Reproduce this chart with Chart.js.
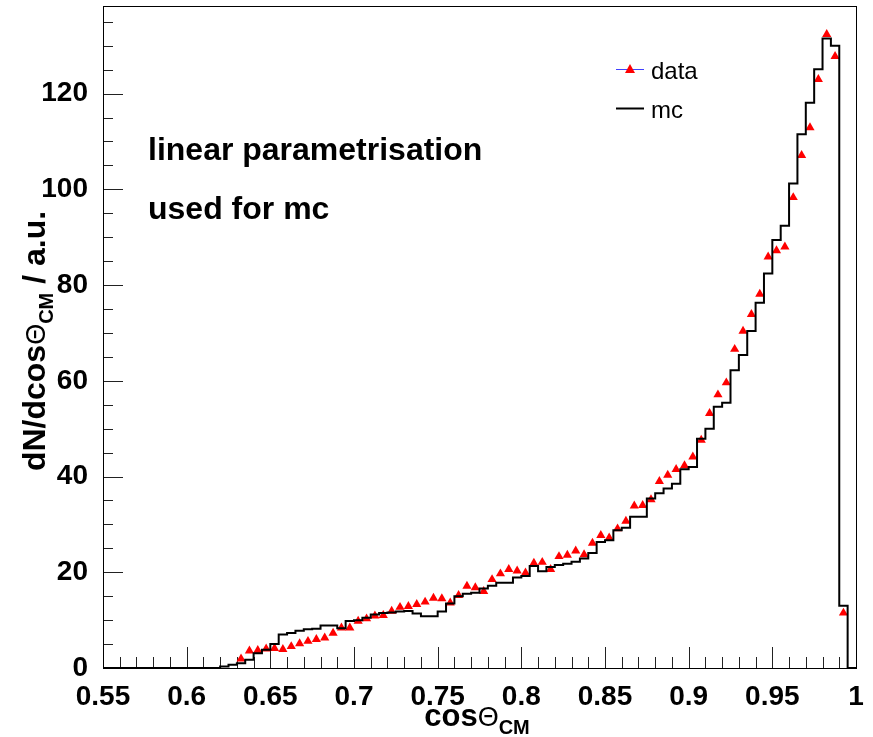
<!DOCTYPE html>
<html>
<head>
<meta charset="utf-8">
<script src="https://cdn.jsdelivr.net/npm/chart.js@4.4.0/dist/chart.umd.min.js"></script>
<style>
html, body { margin: 0; padding: 0; background: #fff; }
#wrap { width: 873px; height: 737px; }
</style>
</head>
<body>
<div id="wrap"><canvas id="chart"></canvas></div>
<script>
// both histograms share the same binning: 90 bins of 0.005 from 0.55 to 1.0
var binLow = 0.55, binWidth = 0.005;

// simulated distribution, one entry per bin
var mc = [
  0, 0, 0, 0, 0, 0, 0, 0, 0, 0,
  0, 0, 0, 0, 0.3, 0.7, 1.0, 1.7, 3.1, 3.8,
  5.0, 7.0, 7.3, 7.8, 8.1, 8.2, 8.9, 8.9, 8.3, 9.8,
  10.0, 10.5, 11.2, 11.5, 11.6, 11.8, 11.9, 11.4, 10.8, 10.8,
  11.8, 13.5, 15.0, 15.5, 15.7, 16.6, 17.2, 17.8, 17.8, 18.9,
  19.2, 21.3, 20.2, 21.1, 21.5, 21.8, 22.2, 22.9, 24.0, 26.3,
  26.7, 28.8, 29.3, 31.6, 31.6, 35.4, 36.5, 37.5, 38.5, 41.5,
  42.0, 47.9, 50.0, 54.6, 55.4, 62.2, 65.4, 70.4, 76.3, 82.4,
  89.4, 92.4, 101.2, 111.5, 118.1, 125.1, 131.5, 130.0, 13.0, 0
];

// measured distribution, null where the bin is empty
var data = [
  null, null, null, null, null, null, null, null, null, null,
  null, null, null, null, null, null, 1.9, 3.6, 3.7, 4.0,
  4.1, 3.9, 4.5, 5.1, 5.6, 6.0, 6.3, 7.3, 8.4, 8.4,
  9.8, 10.3, 10.9, 11.0, 11.9, 12.7, 12.9, 13.3, 13.8, 14.6,
  14.5, 13.6, 15.2, 17.1, 16.8, 16.0, 18.5, 19.7, 20.6, 20.3,
  19.9, 21.9, 22.1, 20.6, 23.3, 23.6, 24.5, 23.7, 26.1, 27.7,
  27.2, 29.1, 30.7, 33.9, 34.0, 35.2, 39.0, 40.3, 41.5, 42.3,
  44.1, 47.6, 53.2, 57.1, 59.6, 66.6, 70.4, 73.9, 78.1, 85.9,
  87.2, 88.0, 98.3, 107.1, 112.9, 123.0, 132.4, 127.8, 11.5, null
];

var xTicks = [0.55, 0.6, 0.65, 0.7, 0.75, 0.8, 0.85, 0.9, 0.95, 1.0];
var xTickLabels = ['0.55', '0.6', '0.65', '0.7', '0.75', '0.8', '0.85', '0.9', '0.95', '1'];
var yTicks = [0, 20, 40, 60, 80, 100, 120];
var yTickLabels = ['0', '20', '40', '60', '80', '100', '120'];

var FONT = '"Liberation Sans", Arial, Helvetica, sans-serif';

// step line through the left edges, closed at the upper edge
var mcPoints = mc.map(function (v, i) { return { x: binLow + i * binWidth, y: v }; });
mcPoints.push({ x: binLow + mc.length * binWidth, y: mc[mc.length - 1] });

var dataPoints = [];
data.forEach(function (v, i) {
  if (v !== null) dataPoints.push({ x: binLow + (i + 0.5) * binWidth, y: v });
});

// draws a run of text pieces (for sub-scripts) starting at x, on baseline y
function richText(ctx, parts, x, y) {
  parts.forEach(function (p) {
    ctx.font = p.font;
    ctx.fillText(p.t, x, y + (p.dy || 0));
    x += ctx.measureText(p.t).width;
  });
}
function richWidth(ctx, parts) {
  var w = 0;
  parts.forEach(function (p) { ctx.font = p.font; w += ctx.measureText(p.t).width; });
  return w;
}

var yTitle = [
  { t: 'dN/dcos', font: 'bold 32px ' + FONT },
  { t: '\u0398', font: '27px ' + FONT },
  { t: 'CM', font: 'bold 20px ' + FONT, dy: 8 },
  { t: ' / a.u.', font: 'bold 32px ' + FONT }
];
var xTitle = [
  { t: 'cos', font: 'bold 31px ' + FONT },
  { t: '\u0398', font: '27px ' + FONT },
  { t: 'CM', font: 'bold 20px ' + FONT, dy: 8 }
];

var frameAndTicks = {
  id: 'frameAndTicks',
  beforeDatasetsDraw: function (chart) {
    var ctx = chart.ctx, a = chart.chartArea;
    var xs = chart.scales.x, ys = chart.scales.y;
    ctx.save();
    ctx.strokeStyle = '#222';
    ctx.lineWidth = 1;
    ctx.beginPath();
    // x ticks every 0.01, long ones every 0.05
    for (var i = 0; i <= 45; i++) {
      var px = Math.round(xs.getPixelForValue(0.55 + i * 0.01)) + 0.5;
      var len = (i % 5 === 0) ? 21 : 11;
      ctx.moveTo(px, a.bottom);
      ctx.lineTo(px, a.bottom - len);
    }
    // y ticks every 5, long ones every 20
    for (var j = 0; j <= 27; j++) {
      var py = Math.round(ys.getPixelForValue(j * 5)) + 0.5;
      var len2 = (j % 4 === 0) ? 20 : 10;
      ctx.moveTo(a.left, py);
      ctx.lineTo(a.left + len2, py);
    }
    ctx.stroke();
    ctx.restore();
  },
  afterDatasetsDraw: function (chart) {
    var ctx = chart.ctx, a = chart.chartArea;
    ctx.save();
    ctx.strokeStyle = '#000';
    ctx.lineWidth = 1;
    ctx.strokeRect(Math.round(a.left) + 0.5, Math.round(a.top) + 0.5,
      Math.round(a.right - a.left), Math.round(a.bottom - a.top));

    ctx.fillStyle = '#000';
    ctx.textBaseline = 'alphabetic';
    ctx.textAlign = 'left';

    // axis titles
    var wx = richWidth(ctx, xTitle);
    richText(ctx, xTitle, 477 - wx / 2, 726);

    ctx.save();
    ctx.translate(45, 341);
    ctx.rotate(-Math.PI / 2);
    var wy = richWidth(ctx, yTitle);
    richText(ctx, yTitle, -wy / 2, 0);
    ctx.restore();

    // annotation
    ctx.font = 'bold 32px ' + FONT;
    ctx.fillText('linear parametrisation', 148, 160);
    ctx.fillText('used for mc', 148, 219);

    // legend
    ctx.strokeStyle = '#4040ff';
    ctx.lineWidth = 1;
    ctx.beginPath();
    ctx.moveTo(616, 69.5);
    ctx.lineTo(644, 69.5);
    ctx.stroke();
    ctx.fillStyle = '#ff0000';
    ctx.beginPath();
    ctx.moveTo(630, 64);
    ctx.lineTo(635, 73);
    ctx.lineTo(625, 73);
    ctx.closePath();
    ctx.fill();

    ctx.strokeStyle = '#000';
    ctx.lineWidth = 2;
    ctx.beginPath();
    ctx.moveTo(616, 108.5);
    ctx.lineTo(644, 108.5);
    ctx.stroke();

    ctx.fillStyle = '#000';
    ctx.font = '24px ' + FONT;
    ctx.fillText('data', 651, 79);
    ctx.fillText('mc', 651, 118);
    ctx.restore();
  }
};

var ctx = document.getElementById('chart');
var chart = new Chart(ctx, {
  type: 'scatter',
  data: {
    datasets: [{
      label: 'mc',
      data: mcPoints,
      showLine: true,
      stepped: true,
      borderColor: '#000',
      borderWidth: 2,
      pointRadius: 0,
      fill: false
    }, {
      label: 'data',
      data: dataPoints,
      showLine: false,
      pointStyle: 'triangle',
      pointRadius: 5.3,
      pointBackgroundColor: '#ff0000',
      pointBorderColor: '#ff0000',
      pointBorderWidth: 0
    }]
  },
  options: {
    responsive: true,
    maintainAspectRatio: false,
    animation: false,
    layout: { padding: { top: 6, right: 17, left: 0, bottom: 0 } },
    plugins: {
      legend: { display: false },
      tooltip: { enabled: false }
    },
    scales: {
      x: {
        type: 'linear',
        min: 0.55,
        max: 1.0,
        afterBuildTicks: function (scale) {
          scale.ticks = xTicks.map(function (v) { return { value: v }; });
        },
        afterFit: function (scale) {
          scale.height = 69;
          scale.paddingLeft = 0;
          scale.paddingRight = 0;
        },
        grid: { display: false },
        border: { display: false },
        ticks: {
          autoSkip: false,
          maxRotation: 0,
          padding: 4,
          color: '#000',
          font: { family: FONT, size: 28, weight: 'bold' },
          callback: function (v, i) { return xTickLabels[i]; }
        }
      },
      y: {
        type: 'linear',
        min: 0,
        max: 138.3,
        afterBuildTicks: function (scale) {
          scale.ticks = yTicks.map(function (v) { return { value: v }; });
        },
        afterFit: function (scale) {
          scale.width = 103;
          scale.paddingTop = 0;
          scale.paddingBottom = 0;
        },
        grid: { display: false },
        border: { display: false },
        ticks: {
          autoSkip: false,
          padding: 7,
          color: '#000',
          font: { family: FONT, size: 28, weight: 'bold' },
          callback: function (v, i) { return yTickLabels[i]; }
        }
      }
    }
  },
  plugins: [frameAndTicks]
});
</script>
</body>
</html>
